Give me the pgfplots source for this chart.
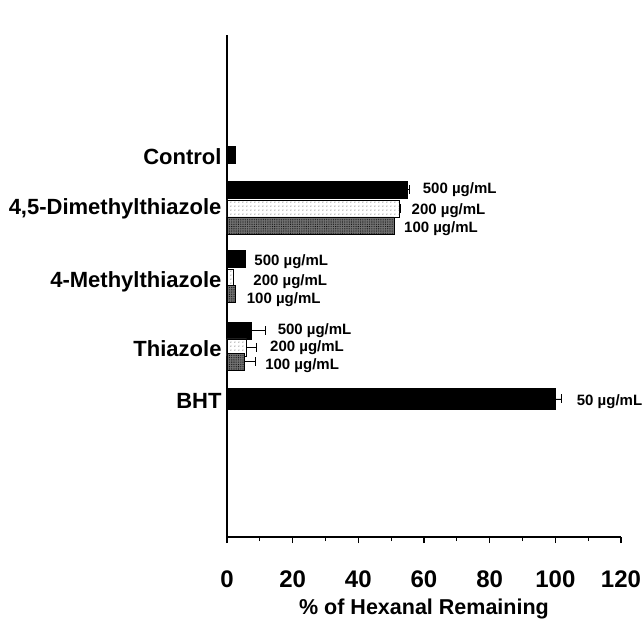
\documentclass[border=0pt]{standalone}
\usepackage{pgfplots}
\pgfplotsset{compat=1.18}
\usepackage{fontspec}
\setmainfont{Liberation Sans}
\usetikzlibrary{patterns,patterns.meta}
\begin{document}
\begin{tikzpicture}
\useasboundingbox (-227bp,-84bp) rectangle (417bp,537bp);
\begin{axis}[
  at={(0,0)}, anchor=south west,
  scale only axis, width=394bp, height=502bp,
  xmin=0, xmax=120, ymin=0, ymax=502,
  axis lines=left, axis line style={-, line width=1.4pt},
  /pgf/number format/assume math mode=true,
  xtick={0,20,...,120}, minor x tick num=1,
  tick align=outside, major tick length=6bp, minor tick length=4bp,
  every tick/.style={black, line width=1.2pt},
  ytick={380,328,255,188,136},
  yticklabels={Control,{4,5-Dimethylthiazole},4-Methylthiazole,Thiazole,BHT},
  ytick style={draw=none},
  yticklabel style={font=\fontsize{22bp}{26bp}\selectfont\bfseries, xshift=4bp},
  xticklabel style={font=\fontsize{24bp}{28bp}\selectfont\bfseries, yshift=-24bp},
  xlabel={\% of Hexanal Remaining},
  xlabel style={font=\fontsize{21.5bp}{25bp}\selectfont\bfseries, at={(axis description cs:0.5,0)}, anchor=center, yshift=-72bp},
  clip=false,
  error bars/error mark=|,
  error bars/error bar style={line width=1pt, black},
  error bars/error mark options={line width=1pt, mark size=4.5bp, black},
]
% Control and 500 ug/mL without visible error
\addplot[xbar, bar shift=0pt, bar width=17, fill=black, draw=black]
  coordinates {(2.5,382) (5.5,278)};
% 500 ug/mL
\addplot[xbar, bar shift=0pt, bar width=17, fill=black, draw=black,
  error bars/.cd, x dir=plus, x explicit]
  coordinates {(55.0,347) +- (0.7,0) (7.5,206) +- (4.1,0)};
% 200 ug/mL
\addplot[xbar, bar shift=0pt, bar width=17, draw=black, fill=white,
  postaction={pattern={Dots[distance=4pt, radius=0.5pt]}, pattern color=black}]
  coordinates {(1.9,259.5)};
\addplot[xbar, bar shift=0pt, bar width=17, draw=black, fill=white,
  postaction={pattern={Dots[distance=4pt, radius=0.5pt]}, pattern color=black},
  error bars/.cd, x dir=plus, x explicit]
  coordinates {(52.3,328.5) +- (0.6,0) (6.0,189.5) +- (3.0,0)};
% 100 ug/mL
\addplot[xbar, bar shift=0pt, bar width=17, draw=black, fill=black!55,
  postaction={pattern={Dots[distance=1.8pt, radius=0.45pt]}, pattern color=black}]
  coordinates {(2.6,243.5)};
\addplot[xbar, bar shift=0pt, bar width=17, draw=black, fill=black!55,
  postaction={pattern={Dots[distance=1.8pt, radius=0.45pt]}, pattern color=black},
  error bars/.cd, x dir=plus, x explicit]
  coordinates {(50.8,311.5) +- (0.3,0) (5.2,175) +- (3.5,0)};
% BHT 50 ug/mL
\addplot[xbar, bar shift=0pt, bar width=21, fill=black, draw=black,
  error bars/.cd, x dir=plus, x explicit]
  coordinates {(100,138) +- (2,0)};
\begin{scope}[every node/.style={anchor=west, inner sep=0pt, font=\fontsize{15bp}{18bp}\selectfont\bfseries}]
\node at (axis cs:59.6,347) {500 µg/mL};
\node at (axis cs:56.2,326) {200 µg/mL};
\node at (axis cs:53.9,308) {100 µg/mL};
\node at (axis cs:8.3,275) {500 µg/mL};
\node at (axis cs:8.0,255) {200 µg/mL};
\node at (axis cs:6.0,237) {100 µg/mL};
\node at (axis cs:15.4,206) {500 µg/mL};
\node at (axis cs:13.1,189) {200 µg/mL};
\node at (axis cs:11.6,171) {100 µg/mL};
\node at (axis cs:106.5,135) {50 µg/mL};
\end{scope}
\end{axis}
\end{tikzpicture}
\end{document}
